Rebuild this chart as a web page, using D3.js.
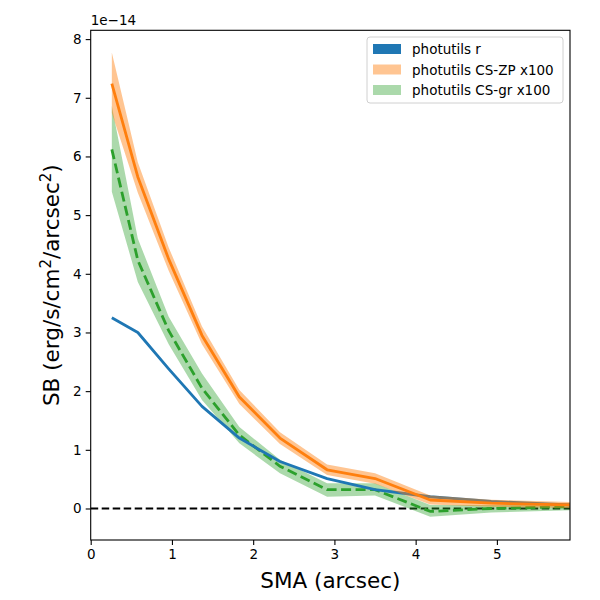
<!DOCTYPE html>
<html>
<head>
<meta charset="utf-8">
<script src="https://cdn.jsdelivr.net/npm/d3@7"></script>
<style>
  body { margin: 0; background: #fff; }
  text { font-family: "DejaVu Sans", sans-serif; }
</style>
</head>
<body>
<svg id="chart" width="600" height="600"></svg>
<script>
// SMA in arcsec, SB in units of 1e-14
const sma = [0.26, 0.58, 0.96, 1.37, 1.83, 2.33, 2.91, 3.50, 4.18, 4.93, 5.90];
const sbR = [3.25, 3.0, 2.38, 1.74, 1.2, 0.8, 0.51, 0.32, 0.2, 0.12, 0.06];
const sbZP = [7.24, 5.65, 4.25, 2.95, 1.9, 1.2, 0.66, 0.51, 0.145, 0.09, 0.06];
const sbZPlo = [6.74, 5.38, 4.05, 2.8, 1.78, 1.1, 0.57, 0.42, 0.07, 0.03, 0.01];
const sbZPhi = [7.77, 5.9, 4.45, 3.1, 2.02, 1.3, 0.75, 0.6, 0.22, 0.15, 0.11];
const sbGR = [6.12, 4.23, 3.03, 2.05, 1.25, 0.72, 0.32, 0.32, -0.05, 0.0, 0.03];
const sbGRlo = [5.4, 3.86, 2.8, 1.85, 1.11, 0.6, 0.2, 0.22, -0.14, -0.07, -0.03];
const sbGRhi = [6.86, 4.6, 3.27, 2.3, 1.39, 0.83, 0.43, 0.43, 0.06, 0.06, 0.09];
const xTicks = [0, 1, 2, 3, 4, 5];
const yTicks = [0, 1, 2, 3, 4, 5, 6, 7, 8];
const legendLabels = ["photutils r", "photutils CS-ZP x100", "photutils CS-gr x100"];

const svg = d3.select("#chart");
const box = { left: 90.7, right: 570, top: 30.3, bottom: 540 };

let x = d3.scaleLinear().domain([0, 5.9]).range([box.left, box.right]);
let y = d3.scaleLinear().domain([-0.537, 8.15]).range([box.bottom, box.top]);

svg.append("defs").append("clipPath").attr("id", "clip")
    .append("rect")
    .attr("x", box.left).attr("y", box.top)
    .attr("width", box.right - box.left).attr("height", box.bottom - box.top);

let plot = svg.append("g").attr("clip-path", "url(#clip)");

let band = (lo, hi) => d3.area()
    .x((d, i) => x(sma[i]))
    .y0((d, i) => y(lo[i]))
    .y1((d, i) => y(hi[i]));
let line = vals => d3.line()
    .x((d, i) => x(sma[i]))
    .y((d, i) => y(vals[i]));

// zero line
plot.append("line")
    .attr("x1", box.left).attr("x2", box.right)
    .attr("y1", y(0)).attr("y2", y(0))
    .attr("stroke", "#000").attr("stroke-width", 2)
    .attr("stroke-dasharray", "7.5,3.5");

// green band + dashed line
plot.append("path").datum(sma)
    .attr("d", band(sbGRlo, sbGRhi))
    .attr("fill", "#2ca02c").attr("fill-opacity", 0.4);
plot.append("path").datum(sma)
    .attr("d", line(sbGR))
    .attr("fill", "none").attr("stroke", "#2ca02c")
    .attr("stroke-width", 2.8).attr("stroke-dasharray", "10,4.5");

// blue
plot.append("path").datum(sma)
    .attr("d", line(sbR))
    .attr("fill", "none").attr("stroke", "#1f77b4")
    .attr("stroke-width", 2.8).attr("stroke-linejoin", "round");

// orange band + line
plot.append("path").datum(sma)
    .attr("d", band(sbZPlo, sbZPhi))
    .attr("fill", "#ff7f0e").attr("fill-opacity", 0.45);
plot.append("path").datum(sma)
    .attr("d", line(sbZP))
    .attr("fill", "none").attr("stroke", "#ff7f0e")
    .attr("stroke-width", 2.8).attr("stroke-linejoin", "round");

// axes
let xAxis = d3.axisBottom(x).tickValues(xTicks).tickSize(5).tickPadding(4).tickFormat(d3.format("d"));
let yAxis = d3.axisLeft(y).tickValues(yTicks).tickSize(5).tickPadding(4).tickFormat(d3.format("d"));

let gx = svg.append("g").attr("transform", "translate(0," + box.bottom + ")").call(xAxis);
let gy = svg.append("g").attr("transform", "translate(" + box.left + ",0)").call(yAxis);
[gx, gy].forEach(g => {
    g.select(".domain").remove();
    g.selectAll(".tick line").attr("stroke", "#000").attr("stroke-width", 1.1);
    g.selectAll(".tick text").attr("fill", "#000")
        .style("font-size", "13.5px").style("font-family", "DejaVu Sans");
});

svg.append("rect")
    .attr("x", box.left).attr("y", box.top)
    .attr("width", box.right - box.left).attr("height", box.bottom - box.top)
    .attr("fill", "none").attr("stroke", "#000").attr("stroke-width", 1.1);

// offset text
svg.append("text").attr("x", box.left).attr("y", 25)
    .style("font-size", "13.5px").text("1e\u221214");

// axis labels
svg.append("text")
    .attr("x", (box.left + box.right) / 2).attr("y", 588)
    .attr("text-anchor", "middle").style("font-size", "21.5px")
    .text("SMA (arcsec)");

let yl = svg.append("text")
    .attr("transform", "translate(59," + ((box.top + box.bottom) / 2) + ") rotate(-90)")
    .attr("text-anchor", "middle").style("font-size", "21.5px");
yl.append("tspan").text("SB (erg/s/cm");
yl.append("tspan").attr("dy", -8.5).style("font-size", "15px").text("2");
yl.append("tspan").attr("dy", 8.5).text("/arcsec");
yl.append("tspan").attr("dy", -8.5).style("font-size", "15px").text("2");
yl.append("tspan").attr("dy", 8.5).text(")");

// legend
let lg = svg.append("g").attr("transform", "translate(367,37)");
lg.append("rect").attr("width", 196).attr("height", 66).attr("rx", 3)
    .attr("fill", "#fff").attr("fill-opacity", 0.8)
    .attr("stroke", "#d0d0d0").attr("stroke-width", 1);
const legendFills = [["#1f77b4", 1], ["#ff7f0e", 0.45], ["#2ca02c", 0.4]];
legendLabels.forEach((lab, i) => {
    let row = lg.append("g").attr("transform", "translate(0," + (12 + i * 20.5) + ")");
    row.append("rect").attr("x", 6).attr("y", -5).attr("width", 28).attr("height", 10)
        .attr("fill", legendFills[i][0]).attr("fill-opacity", legendFills[i][1]);
    row.append("text").attr("x", 45).attr("y", 5)
        .style("font-size", "13.5px").text(lab);
});
</script>
</body>
</html>
